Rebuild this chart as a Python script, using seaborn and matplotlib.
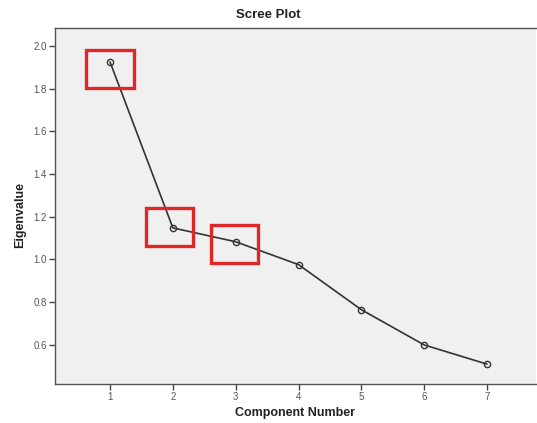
import matplotlib
matplotlib.use("Agg")
import matplotlib.pyplot as plt
import seaborn as sns
import pandas as pd
from matplotlib.patches import Rectangle

components = [1, 2, 3, 4, 5, 6, 7]
eigenvalues = [1.925, 1.148, 1.083, 0.976, 0.765, 0.600, 0.510]
y_ticks = [0.6, 0.8, 1.0, 1.2, 1.4, 1.6, 1.8, 2.0]
highlighted = [1, 2, 3]

df = pd.DataFrame({"Component Number": components, "Eigenvalue": eigenvalues})

sns.set_style("white")
plt.rcParams['font.family'] = ['Liberation Sans', 'DejaVu Sans']

fig = plt.figure(figsize=(5.37, 4.23), dpi=100)
ax = fig.add_axes([55/537, 1-384/423, (536-55)/537, (384-28)/423])
ax.set_facecolor("#f0f0f0")

sns.lineplot(data=df, x="Component Number", y="Eigenvalue", ax=ax,
             color="#333333", linewidth=1.2, marker="o", markersize=4.5,
             markerfacecolor="none", markeredgecolor="#333333", markeredgewidth=1.0)

ax.set_xlim(0.124, 7.78)
ax.set_ylim(0.417, 2.084)
ax.set_xticks(components)
ax.set_yticks(y_ticks)
ax.set_xticklabels([str(c) for c in components])
ax.set_yticklabels([f"{v:.1f}" for v in y_ticks])
ax.tick_params(axis="both", which="both", direction="out", length=4, width=1,
               color="#444444", labelsize=7, labelcolor="#555555", pad=2,
               bottom=True, left=True)

for side in ["left", "bottom", "top"]:
    ax.spines[side].set_color("#555555")
    ax.spines[side].set_linewidth(1.0)
    ax.spines[side].set_visible(True)
ax.spines["right"].set_visible(False)

ax.set_xlabel("")
ax.set_ylabel("")
fig.text(295/537, 1-413/423, "Component Number", ha="center", va="center",
         fontsize=9, fontweight="bold", color="#222222")
fig.text(20/537, 1-215/423, "Eigenvalue", ha="center", va="center", rotation=90,
         fontsize=9, fontweight="bold", color="#222222")
fig.text(268/537, 1-15/423, "Scree Plot", ha="center", va="center",
         fontsize=9.5, fontweight="bold", color="#222222")

# red highlight boxes around the first three components
box_w, box_h = 0.75, 0.178
offsets = {1: -0.035, 2: 0.005, 3: -0.012}
xoff = {1: 0.0, 2: -0.05, 3: -0.02}
for c in highlighted:
    yv = eigenvalues[c-1] + offsets[c]
    ax.add_patch(Rectangle((c - box_w/2 + xoff[c], yv - box_h/2), box_w, box_h,
                           fill=False, edgecolor="#e02626", linewidth=2.4, zorder=5))

fig.savefig("out.png", dpi=100)
